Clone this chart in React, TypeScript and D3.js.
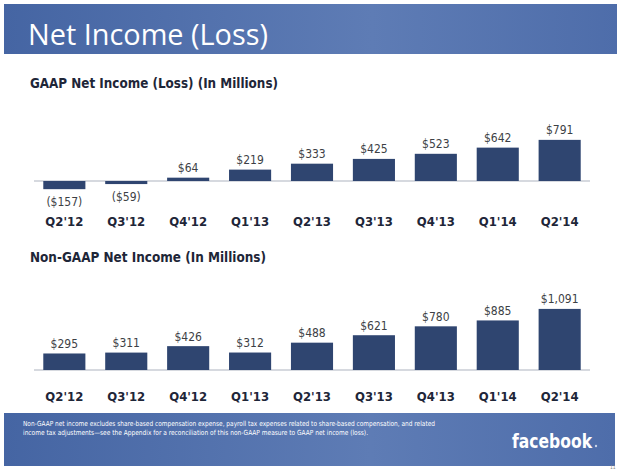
import React from "react";
import * as d3 from "d3";

const categories = ["Q2'12", "Q3'12", "Q4'12", "Q1'13", "Q2'13", "Q3'13", "Q4'13", "Q1'14", "Q2'14"];
const gaapValues = [-157, -59, 64, 219, 333, 425, 523, 642, 791];
const nonGaapValues = [295, 311, 426, 312, 488, 621, 780, 885, 1091];

const pageTitle = "Net Income (Loss)";
const gaapTitle = "GAAP Net Income (Loss) (In Millions)";
const nonGaapTitle = "Non-GAAP Net Income (In Millions)";
const footnoteLines = [
  "Non-GAAP net income excludes share-based compensation expense, payroll tax expenses related to share-based compensation, and related",
  "income tax adjustments\u2014see the Appendix for a reconciliation of this non-GAAP measure to GAAP net income (loss).",
];

const W = 620;
const H = 472;
const BAR = "#2f4570";
const LABEL_FONT = "'DejaVu Sans Condensed', 'DejaVu Sans', sans-serif";

const fmt = d3.format(",");
const money = (v: number) => (v < 0 ? `($${fmt(-v)})` : `$${fmt(v)}`);

const x = d3.scaleBand<string>().domain(categories).range([34, 590]).paddingInner(0.32).paddingOuter(0.15);

function Panel({ values, y, catY }: { values: number[]; y: d3.ScaleLinear<number, number>; catY: number }) {
  const zero = y(0);
  return (
    <g>
      <line x1={x.range()[0]} x2={x.range()[1]} y1={zero} y2={zero} stroke="#c9cdd5" strokeWidth={1.5} />
      {values.map((v, i) => {
        const c = categories[i];
        const x0 = x(c)!;
        const top = Math.min(y(v), zero);
        const h = Math.abs(y(v) - zero);
        const cx = x0 + x.bandwidth() / 2;
        const ly = v >= 0 ? y(v) - 5.5 : y(v) + 16.5;
        return (
          <g key={c}>
            <rect x={x0} y={top} width={x.bandwidth()} height={h} fill={BAR} />
            <text x={cx} y={ly} textAnchor="middle" fontFamily={LABEL_FONT} fontSize={12} fill="#3d3f45">
              {money(v)}
            </text>
            <text x={cx} y={catY} textAnchor="middle" fontFamily={LABEL_FONT} fontWeight="bold" fontSize={13} fill="#1e2638">
              {c}
            </text>
          </g>
        );
      })}
    </g>
  );
}

export default function App() {
  const yG = d3.scaleLinear().domain([0, 1000]).range([181, 129]);
  const yN = d3.scaleLinear().domain([0, 1000]).range([370, 314]);
  return (
    <svg width={W} height={H} style={{ position: "absolute", left: 0, top: 0, background: "#fff" }}>
      <defs>
        <linearGradient id="band" x1="0" x2="1" y1="0" y2="0">
          <stop offset="0" stopColor="#4565a3" />
          <stop offset="0.6" stopColor="#5e7cb5" />
          <stop offset="1" stopColor="#4e6daa" />
        </linearGradient>
      </defs>
      <rect x={0} y={0} width={W} height={H} fill="#fff" />
      <rect x={4} y={4} width={613} height={50} fill="url(#band)" />
      <text x={28} y={45} fontFamily="'Open Sans', sans-serif" fontSize={30} fill="#fff" textLength={240} lengthAdjust="spacingAndGlyphs">
        {pageTitle}
      </text>

      <text x={30} y={88} fontFamily={LABEL_FONT} fontWeight="bold" fontSize={13.5} fill="#1e2638" textLength={248} lengthAdjust="spacingAndGlyphs">
        {gaapTitle}
      </text>
      <Panel values={gaapValues} y={yG} catY={226} />

      <text x={30} y={262} fontFamily={LABEL_FONT} fontWeight="bold" fontSize={13.5} fill="#1e2638" textLength={236} lengthAdjust="spacingAndGlyphs">
        {nonGaapTitle}
      </text>
      <Panel values={nonGaapValues} y={yN} catY={401} />

      <rect x={4} y={413} width={611} height={53} fill="url(#band)" />
      {footnoteLines.map((t, i) => (
        <text key={i} x={23} y={426 + i * 9} fontFamily={LABEL_FONT} fontSize={7} fill="#fff"
          textLength={i === 0 ? 412 : 345} lengthAdjust="spacingAndGlyphs">
          {t}
        </text>
      ))}
      <text x={512} y={448} fontFamily={LABEL_FONT} fontWeight="bold" fontSize={19} fill="#fff" textLength={80} lengthAdjust="spacingAndGlyphs">
        facebook
      </text>
      <circle cx={596} cy={446} r={1.2} fill="#c9d3e8" />
      <text x={610} y={469} fontFamily={LABEL_FONT} fontSize={5} fill="#888">11</text>
    </svg>
  );
}
